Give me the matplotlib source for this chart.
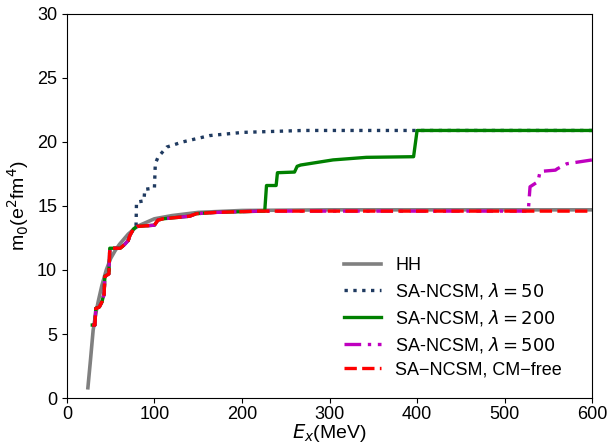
import matplotlib
matplotlib.use("Agg")
import matplotlib.pyplot as plt

plt.rcParams['font.family'] = ['Liberation Sans', 'DejaVu Sans']
plt.rcParams['mathtext.fontset'] = 'dejavusans'

# HH (smooth)
hh_x = [24, 27, 30, 33, 36, 40, 45, 50, 55, 60, 70, 80, 90, 100, 120, 150, 200, 300, 600]
hh_y = [0.8, 3.0, 5.3, 6.6, 7.6, 8.8, 10.0, 10.9, 11.5, 12.0, 12.8, 13.4, 13.7, 14.0, 14.25, 14.5, 14.65, 14.7, 14.7]

# SA-NCSM, CM-free
cm_x = [29, 32, 33, 37, 40, 41.5, 42.5, 43.4, 48, 49, 61, 66, 70, 72, 76, 80, 100, 104, 110, 140, 148, 170, 220, 600]
cm_y = [5.7, 5.7, 7.0, 7.1, 7.5, 7.9, 8.1, 9.5, 9.7, 11.7, 11.7, 12.0, 12.3, 12.7, 13.2, 13.4, 13.5, 13.9, 14.0, 14.2, 14.4, 14.5, 14.6, 14.6]

# SA-NCSM, lambda = 50
l50_x = [29, 32, 33, 37, 40, 41.5, 42.5, 43.4, 48, 49, 61, 66, 70, 72, 76, 79, 79.5, 88, 89, 100, 101, 104, 114, 132, 163, 201, 270, 600]
l50_y = [5.7, 5.7, 7.0, 7.1, 7.5, 7.9, 8.1, 9.5, 9.7, 11.7, 11.7, 12.0, 12.3, 12.7, 13.2, 13.4, 15.3, 15.4, 16.3, 16.4, 18.3, 18.8, 19.6, 20.0, 20.5, 20.75, 20.9, 20.9]

# SA-NCSM, lambda = 200
l200_x = [29, 32, 33, 37, 40, 41.5, 42.5, 43.4, 48, 49, 61, 66, 70, 72, 76, 80, 100, 104, 110, 140, 148, 170, 226, 228, 239, 240.5, 260, 263, 267, 304, 342, 396, 400, 600]
l200_y = [5.7, 5.7, 7.0, 7.1, 7.5, 7.9, 8.1, 9.5, 9.7, 11.7, 11.7, 12.0, 12.3, 12.7, 13.2, 13.4, 13.5, 13.9, 14.0, 14.2, 14.4, 14.5, 14.6, 16.6, 16.6, 17.6, 17.65, 18.1, 18.2, 18.6, 18.8, 18.85, 20.9, 20.9]

# SA-NCSM, lambda = 500
l500_x = [29, 32, 33, 37, 40, 41.5, 42.5, 43.4, 48, 49, 61, 66, 70, 72, 76, 80, 100, 104, 110, 140, 148, 170, 220, 527, 529, 538, 540.5, 558, 560, 571, 600]
l500_y = [5.7, 5.7, 7.0, 7.1, 7.5, 7.9, 8.1, 9.5, 9.7, 11.7, 11.7, 12.0, 12.3, 12.7, 13.2, 13.4, 13.5, 13.9, 14.0, 14.2, 14.4, 14.5, 14.6, 14.6, 16.5, 16.9, 17.7, 17.8, 17.9, 18.3, 18.6]

fig = plt.figure(figsize=(6.08, 4.45), dpi=100)
ax = fig.add_axes([0.110, 0.1056, 0.864, 0.863])

ax.plot(hh_x, hh_y, color='gray', lw=2.6, label='HH')
ax.plot(l50_x, l50_y, color='#1f3a60', lw=2.4, ls=':', label=r'SA-NCSM, $\lambda=50$')
ax.plot(l200_x, l200_y, color='green', lw=2.4, ls='-', label=r'SA-NCSM, $\lambda=200$')
ax.plot(l500_x, l500_y, color='m', lw=2.4, ls=(0, (5, 2, 1, 2)), label=r'SA-NCSM, $\lambda=500$')
ax.plot(cm_x, cm_y, color='red', lw=2.4, ls='--', label='SA\u2212NCSM, CM\u2212free')

ax.set_xlim(0, 600)
ax.set_ylim(0, 30)
ax.set_xticks([0, 100, 200, 300, 400, 500, 600])
ax.set_yticks([0, 5, 10, 15, 20, 25, 30])
ax.tick_params(labelsize=13)
ax.tick_params(axis='x', pad=2.5)
ax.set_xlabel(r'$E_x$(MeV)', fontsize=14, labelpad=-1)
ax.set_ylabel(r'm$_0$(e$^2$fm$^4$)', fontsize=14)

ax.legend(loc='lower right', bbox_to_anchor=(0.973, 0.008), frameon=False, fontsize=13,
          handlelength=2.0, labelspacing=0.38, borderaxespad=0.5)

fig.savefig('out.png', dpi=100)
